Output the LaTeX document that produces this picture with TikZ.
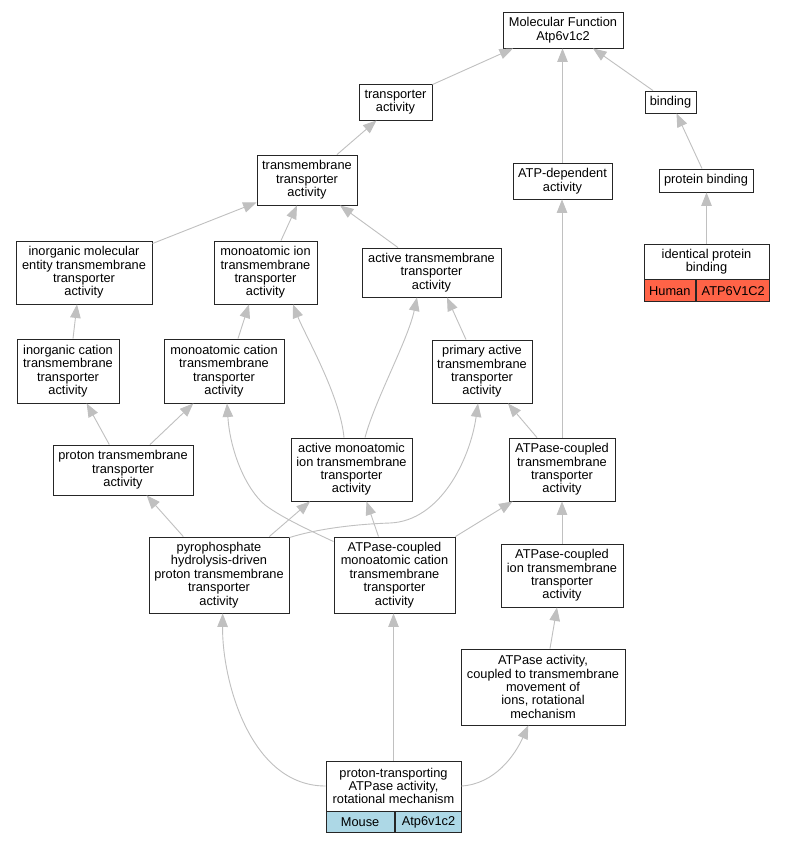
\documentclass[tikz,border=0pt]{standalone}
\usepackage{fontspec}
\setmainfont{Liberation Sans}
\usetikzlibrary{arrows.meta,calc}
\definecolor{edgegray}{HTML}{C0C0C0}
\definecolor{tomatored}{HTML}{FF6347}
\definecolor{mouseblue}{HTML}{ADD8E6}
\begin{document}
\begin{tikzpicture}[x=1pt,y=-1pt,
  term/.style={draw=black!85, line width=0.9pt, fill=white, inner sep=0pt, align=center,
    font=\fontsize{12.8}{13.4}\selectfont},
  cell/.style={term, anchor=north west},
  isa/.style={draw=edgegray, line width=0.9pt, -{Triangle[length=13.5pt,width=10.5pt]}}]
\fill[white] (0,0) rectangle (785,843);
\useasboundingbox (0,0) rectangle (785,843);

% nodes
\node[term, minimum width=120pt, minimum height=36pt] (mf) at (563,30) {Molecular Function\\Atp6v1c2};
\node[term, minimum width=73pt, minimum height=36pt] (ta) at (395.5,102) {transporter\\activity};
\node[term, minimum width=51pt, minimum height=22pt] (bind) at (670.5,102) {binding};
\node[term, minimum width=99pt, minimum height=36pt] (atpdep) at (562.5,181) {ATP-dependent\\activity};
\node[term, minimum width=94pt, minimum height=23pt] (pbind) at (706,180.5) {protein binding};
\node[term, minimum width=100pt, minimum height=50pt] (tta) at (307,180) {transmembrane\\transporter\\activity};
\node[term, minimum width=136pt, minimum height=63pt] (imol) at (84,272.5) {inorganic molecular\\entity transmembrane\\transporter\\activity};
\node[term, minimum width=103pt, minimum height=63pt] (mion) at (265.5,272.5) {monoatomic ion\\transmembrane\\transporter\\activity};
\node[term, minimum width=139pt, minimum height=49pt] (atm) at (431.5,272.5) {active transmembrane\\transporter\\activity};
\node[term, minimum width=125pt, minimum height=35pt] (ipb) at (706.5,261.5) {identical protein\\binding};
\node[cell, fill=tomatored, minimum width=51.7pt, minimum height=22pt] (ipbh) at (ipb.south west) {Human};
\node[cell, fill=tomatored, minimum width=73.3pt, minimum height=22pt] (ipbg) at (ipbh.north east) {ATP6V1C2};
\node[term, minimum width=102pt, minimum height=64pt] (icat) at (68,371) {inorganic cation\\transmembrane\\transporter\\activity};
\node[term, minimum width=120pt, minimum height=64pt] (mcat) at (224,371) {monoatomic cation\\transmembrane\\transporter\\activity};
\node[term, minimum width=100pt, minimum height=63pt] (pat) at (482,371.5) {primary active\\transmembrane\\transporter\\activity};
\node[term, minimum width=140pt, minimum height=50pt] (ptm) at (123,470) {proton transmembrane\\transporter\\activity};
\node[term, minimum width=121pt, minimum height=63pt] (ami) at (351.5,469.5) {active monoatomic\\ion transmembrane\\transporter\\activity};
\node[term, minimum width=106pt, minimum height=63pt] (actm) at (562,469.5) {ATPase-coupled\\transmembrane\\transporter\\activity};
\node[term, minimum width=140pt, minimum height=76pt] (ppi) at (219,575) {pyrophosphate\\hydrolysis-driven\\proton transmembrane\\transporter\\activity};
\node[term, minimum width=121pt, minimum height=76pt] (acmc) at (394.5,575) {ATPase-coupled\\monoatomic cation\\transmembrane\\transporter\\activity};
\node[term, minimum width=122pt, minimum height=63pt] (acion) at (562,575.5) {ATPase-coupled\\ion transmembrane\\transporter\\activity};
\node[term, minimum width=164pt, minimum height=76pt] (atpase) at (543,687) {ATPase activity,\\coupled to transmembrane\\movement of\\ions, rotational\\mechanism};
\node[term, minimum width=135pt, minimum height=50pt] (ptr) at (393.5,786) {proton-transporting\\ATPase activity,\\rotational mechanism};
\node[cell, fill=mouseblue, minimum width=68.3pt, minimum height=21pt] (ptrm) at (ptr.south west) {Mouse};
\node[cell, fill=mouseblue, minimum width=66.7pt, minimum height=21pt] (ptrg) at (ptrm.north east) {Atp6v1c2};

% edges
\draw[isa] ($(ta.north east)+(0,1)$) -- ($(mf.south)+(-50,0)$);
\draw[isa] (atpdep.north) -- (atpdep.north |- mf.south);
\draw[isa] ($(bind.north)+(-17.5,0)$) -- ($(mf.south)+(30,0)$);
\draw[isa] ($(pbind.north)+(-4,0)$) -- ($(bind.south)+(6,0)$);
\draw[isa] (ipb.north) -- (ipb.north |- pbind.south);
\draw[isa] ($(tta.north)+(30,0)$) -- ($(ta.south)+(-19,0)$);
\draw[isa] ($(imol.north east)+(0,3)$) -- ($(tta.south west)+(0,-3)$);
\draw[isa] ($(mion.north)+(15.5,0)$) -- ($(tta.south)+(-10,0)$);
\draw[isa] ($(atm.north)+(-33.5,0)$) -- ($(tta.south)+(33,0)$);
\draw[isa] ($(icat.north)+(5,0)$) -- ($(imol.south)+(-7,0)$);
\draw[isa] ($(mcat.north)+(14,0)$) -- ($(mion.south)+(-16.5,0)$);
\draw[isa] (actm.north) -- (actm.north |- atpdep.south);
\draw[isa] ($(pat.north)+(-16,0)$) -- ($(atm.south)+(15.5,0)$);
\draw[isa] ($(ami.north)+(-7.5,0)$) .. controls (340,395) and (305,335) .. ($(mion.south)+(27.5,0)$);
\draw[isa] ($(ami.north)+(13.5,0)$) .. controls (375,400) and (408,340) .. ($(atm.south)+(-14.5,0)$);
\draw[isa] ($(ptm.north)+(-13.7,0)$) -- ($(icat.south)+(18.7,0)$);
\draw[isa] ($(ptm.north)+(27,0)$) -- ($(mcat.south)+(-30.7,0)$);
\draw[isa] ($(acmc.north west)+(0,5)$) .. controls (300,526) and (280,516) .. (265,505) .. controls (245,488) and (230,450) .. ($(mcat.south)+(3,0)$);
\draw[isa] ($(ppi.north)+(-35.7,0)$) -- ($(ptm.south)+(23.7,0)$);
\draw[isa] ($(ppi.north)+(50.3,0)$) -- ($(ami.south)+(-41.5,0)$);
\draw[isa] ($(ppi.north east)+(0,1)$) .. controls (320,528) and (360,524) .. (390,523) .. controls (440,521) and (470,460) .. ($(pat.south)+(-4,0)$);
\draw[isa] ($(acmc.north)+(-16,0)$) -- ($(ami.south)+(15,0)$);
\draw[isa] (acmc.north east) -- ($(actm.south west)+(4,0)$);
\draw[isa] ($(actm.north)+(-25,0)$) -- ($(pat.south)+(26,0)$);
\draw[isa] (acion.north) -- (acion.north |- actm.south);
\draw[isa] ($(atpase.north)+(7,0)$) -- ($(acion.south)+(-5,0)$);
\draw[isa] (ptr.west) .. controls (250,786) and (222,680) .. ($(ppi.south)+(3.7,0)$);
\draw[isa] (ptr.north) -- (ptr.north |- acmc.south);
\draw[isa] (ptr.east) .. controls (495,784) and (515,755) .. ($(atpase.south)+(-14.7,0)$);
\end{tikzpicture}
\end{document}
